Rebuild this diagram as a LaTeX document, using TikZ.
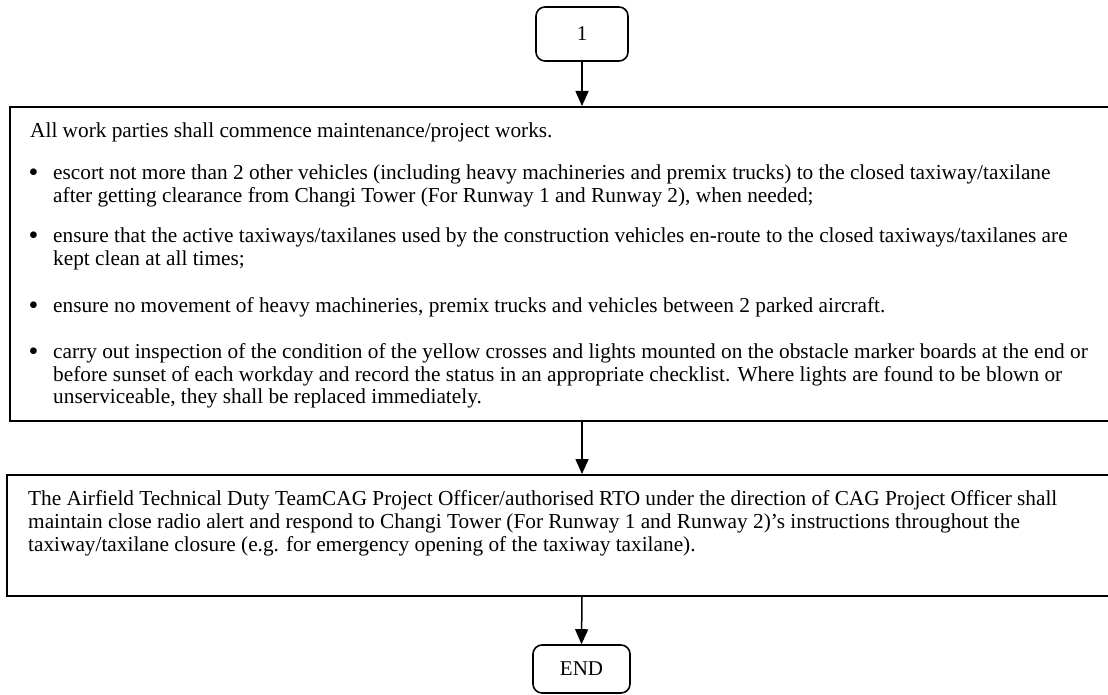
\documentclass[tikz,border=0pt]{standalone}
\usepackage{fontspec}
\setmainfont{Liberation Serif}
\usetikzlibrary{arrows.meta}
\begin{document}
\begin{tikzpicture}[x=1pt,y=-1pt,
  box/.style={draw, line width=1.6pt, inner sep=0pt, anchor=north west},
  term/.style={draw, line width=1.6pt, rounded corners=9pt, minimum width=92pt, minimum height=54pt, inner sep=0pt, font=\fontsize{21}{24}\selectfont},
  txt/.style={anchor=base west, inner sep=0pt, font=\fontsize{21.3}{24}\selectfont},
  bul/.style={anchor=base, inner sep=0pt, font=\fontsize{28}{28}\selectfont},
  flow/.style={line width=1.5pt, -{Triangle[length=15pt,width=13pt]}}]
\useasboundingbox (0,0) rectangle (1108,695);
\clip (0,0) rectangle (1108,695);
\node[term] (start) at (582,34) {1};
\node[box, minimum width=1115pt, minimum height=314pt] (b1) at (9,106) {};
\node[box, minimum width=1115pt, minimum height=121pt] (b2) at (6,474) {};
\node[term, minimum width=97pt, minimum height=48pt] (end) at (581.5,669) {END};

\node[txt] (t0) at (30,138) {All work parties shall commence maintenance/project works.};
\node[bul] (u1) at (33.5,182) {•};
\node[txt] (t1a) at (53,180) {escort not more than 2 other vehicles (including heavy machineries and premix trucks) to the closed taxiway/taxilane};
\node[txt] (t1b) at (53,203) {after getting clearance from Changi Tower (For Runway 1 and Runway 2), when needed;};
\node[bul] (u2) at (33.5,244) {•};
\node[txt] (t2a) at (53,242) {ensure that the active taxiways/taxilanes used by the construction vehicles en-route to the closed taxiways/taxilanes are};
\node[txt] (t2b) at (53,265) {kept clean at all times;};
\node[bul] (u3) at (33.5,314) {•};
\node[txt] (t3a) at (53,312) {ensure no movement of heavy machineries, premix trucks and vehicles between 2 parked aircraft.};
\node[bul] (u4) at (33.5,360) {•};
\node[txt] (t4a) at (53,358) {carry out inspection of the condition of the yellow crosses and lights mounted on the obstacle marker boards at the end or};
\node[txt] (t4b) at (53,381) {before sunset of each workday and record the status in an appropriate checklist. Where lights are found to be blown or};
\node[txt] (t4c) at (53,403) {unserviceable, they shall be replaced immediately.};

\node[txt] (s1) at (28,505) {The Airfield Technical Duty TeamCAG Project Officer/authorised RTO under the direction of CAG Project Officer shall};
\node[txt] (s2) at (28,528) {maintain close radio alert and respond to Changi Tower (For Runway 1 and Runway 2)’s instructions throughout the};
\node[txt] (s3) at (28,551) {taxiway/taxilane closure (e.g. for emergency opening of the taxiway taxilane).};

\draw[flow] (start.south) -- (start.south |- b1.north);
\draw[flow] (start.south |- b1.south) -- (start.south |- b2.north);
\draw[flow] (start.south |- b2.south) -- (end.north);
\end{tikzpicture}
\end{document}
